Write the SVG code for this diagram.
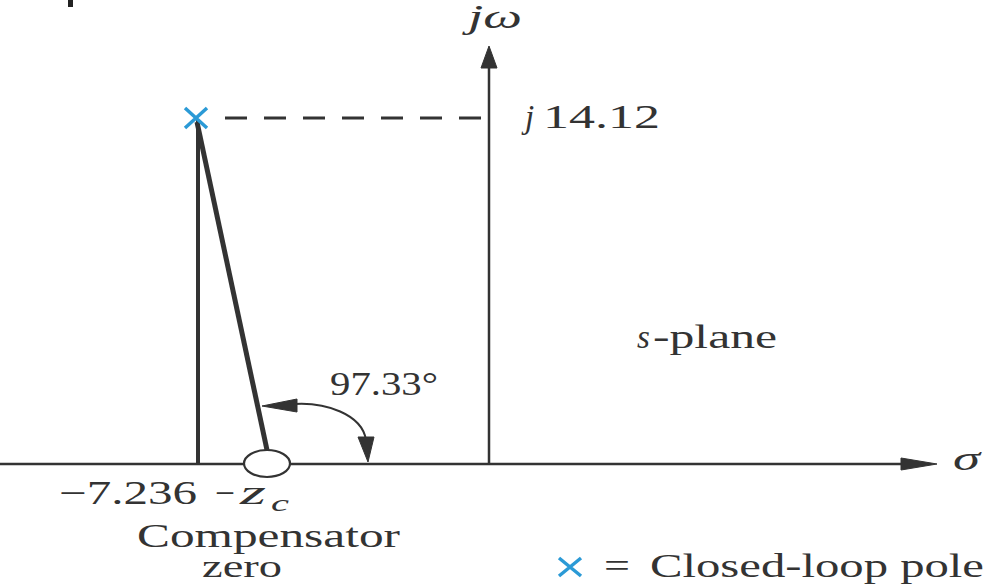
<svg xmlns="http://www.w3.org/2000/svg" width="986" height="584" viewBox="0 0 986 584">
<style>
.t{font-family:"Liberation Serif","Times New Roman",serif;font-size:33px;fill:#333}
.i{font-style:italic}
.ln{stroke:#333;fill:none}
.ah{fill:#333;stroke:#333;stroke-width:1;stroke-linejoin:miter}
.px{stroke:#2b9ad6;stroke-width:3.5;fill:none;stroke-linecap:butt}
</style>
<rect width="986" height="584" fill="#fff"/>
<rect x="68" y="0" width="5" height="7" fill="#222"/>

<g id="connectors">
  <line class="ln" x1="0" y1="464" x2="904" y2="464" stroke-width="2.5"/>
  <polygon class="ah" points="937,464 901,458 901,470"/>
  <line class="ln" x1="489" y1="464" x2="489" y2="66" stroke-width="2.5"/>
  <polygon class="ah" points="489,46 481,68 497,68"/>
  <line class="ln" x1="225" y1="118" x2="482" y2="118" stroke-width="3" stroke-dasharray="22 17"/>
  <line class="ln" x1="198" y1="120" x2="198" y2="464" stroke-width="4"/>
  <line class="ln" x1="197" y1="122" x2="267" y2="450" stroke-width="5"/>
  <path class="ln" d="M294,404 C325,402 362,414 366,440" stroke-width="2"/>
  <polygon class="ah" points="262,406 297,399 297,412"/>
  <polygon class="ah" points="368,462 358,437 374,437"/>
</g>

<g id="zero">
  <ellipse cx="267" cy="463.5" rx="23" ry="13.5" fill="#fff" stroke="#333" stroke-width="2.2"/>
</g>

<g id="pole">
  <path class="px" d="M185,108 L207,128 M207,108 L185,128"/>
</g>

<g id="labels">
  <text class="t i" x="468" y="28" textLength="54" lengthAdjust="spacingAndGlyphs">jω</text>
  <text class="t i" x="525" y="128">j</text>
  <text class="t" x="543" y="128" textLength="117" lengthAdjust="spacingAndGlyphs">14.12</text>
  <text class="t" x="330" y="395" textLength="108" lengthAdjust="spacingAndGlyphs">97.33°</text>
  <text class="t i" x="637" y="348">s</text>
  <text class="t" x="653" y="348" textLength="124" lengthAdjust="spacingAndGlyphs">-plane</text>
  <text class="t i" x="953" y="470" textLength="27" lengthAdjust="spacingAndGlyphs">σ</text>
  <text class="t" x="59" y="504" textLength="138" lengthAdjust="spacingAndGlyphs">−7.236</text>
  <text class="t" x="215" y="504" textLength="20" lengthAdjust="spacingAndGlyphs">−</text>
  <text class="t i" x="240" y="504" textLength="26" lengthAdjust="spacingAndGlyphs">z</text>
  <text class="t i" x="271" y="511" style="font-size:24px" textLength="18" lengthAdjust="spacingAndGlyphs">c</text>
  <text class="t" x="137" y="547" textLength="263" lengthAdjust="spacingAndGlyphs">Compensator</text>
  <text class="t" x="202" y="577" style="font-size:31px" textLength="80" lengthAdjust="spacingAndGlyphs">zero</text>
</g>

<g id="legend">
  <path class="px" d="M559,558 L581,576 M581,558 L559,576"/>
  <text class="t" x="604" y="577" textLength="26" lengthAdjust="spacingAndGlyphs">=</text>
  <text class="t" x="650" y="577" textLength="334" lengthAdjust="spacingAndGlyphs">Closed-loop pole</text>
</g>
</svg>
